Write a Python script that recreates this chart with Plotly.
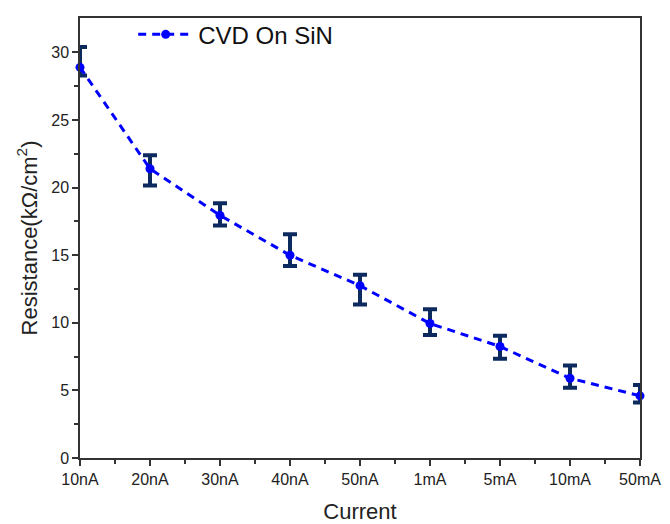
import plotly.graph_objects as go

categories = ["10nA", "20nA", "30nA", "40nA", "50nA", "1mA", "5mA", "10mA", "50mA"]
resistance = [28.9, 21.4, 17.95, 15.0, 12.75, 9.95, 8.25, 5.9, 4.6]
err_plus = [1.5, 1.0, 0.9, 1.55, 0.8, 1.05, 0.8, 0.95, 0.8]
err_minus = [0.6, 1.25, 0.75, 0.8, 1.4, 0.85, 0.9, 0.7, 0.5]
y_ticks = [0, 5, 10, 15, 20, 25, 30]

x_idx = list(range(len(categories)))
FONT = "Liberation Sans, Arial, sans-serif"

fig = go.Figure()
fig.add_trace(go.Scatter(
    x=x_idx, y=resistance,
    mode="lines+markers",
    name="CVD On SiN",
    line=dict(color="#0000ff", width=3, dash="8px,6px"),
    marker=dict(color="#0000ff", size=9, symbol="circle"),
    error_y=dict(type="data", symmetric=False, array=err_plus, arrayminus=err_minus,
                 color="#0d2a5e", thickness=4, width=7),
    cliponaxis=False,
))

axis_common = dict(
    showline=True, linecolor="#333333", linewidth=1.5, mirror=True,
    ticks="outside", ticklen=6, tickwidth=1.5, tickcolor="#333333",
    tickfont=dict(family=FONT, size=16, color="#222222"),
    showgrid=False, zeroline=False, automargin=False,
)

fig.update_xaxes(
    **axis_common,
    range=[0, 8],
    tickmode="array", tickvals=x_idx, ticktext=categories,
    minor=dict(tickmode="array", tickvals=[i + 0.5 for i in range(8)], ticklen=4,
               tickwidth=1.5, tickcolor="#333333", ticks="outside"),
    title=dict(text="Current", font=dict(family=FONT, size=22, color="#222222"), standoff=18),
)
fig.update_yaxes(
    **axis_common,
    range=[0, 32.55],
    tickmode="array", tickvals=y_ticks,
    minor=dict(tickmode="array", tickvals=[2.5, 7.5, 12.5, 17.5, 22.5, 27.5], ticklen=4,
               tickwidth=1.5, tickcolor="#333333", ticks="outside"),
    title=dict(text="Resistance(kΩ/cm<sup>2</sup>)", font=dict(family=FONT, size=22, color="#222222"), standoff=8),
)

fig.update_layout(
    width=670, height=524,
    margin=dict(l=80, r=30, t=12, b=66),
    plot_bgcolor="white", paper_bgcolor="white",
    font=dict(family=FONT, color="#222222"),
    showlegend=True,
    legend=dict(x=0.095, y=0.962, xanchor="left", yanchor="middle", itemwidth=55,
                bgcolor="rgba(0,0,0,0)", borderwidth=0,
                font=dict(family=FONT, size=24, color="#111111")),
)

fig.write_html("out.html", config={"displayModeBar": False},
               post_script="document.body.style.margin='0';")
